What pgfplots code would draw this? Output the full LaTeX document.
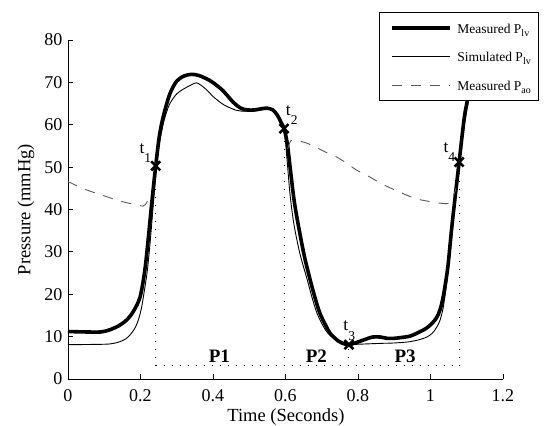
\documentclass[border=0pt]{standalone}
\usepackage{fontspec}
\setmainfont{Liberation Serif}
\usepackage{pgfplots}
\pgfplotsset{compat=1.18}
\pgfdeclareplotmark{boldx}{%
  \pgfsetlinewidth{2.6pt}\pgfsetbuttcap
  \pgfpathmoveto{\pgfqpoint{-\pgfplotmarksize}{-\pgfplotmarksize}}%
  \pgfpathlineto{\pgfqpoint{\pgfplotmarksize}{\pgfplotmarksize}}%
  \pgfpathmoveto{\pgfqpoint{-\pgfplotmarksize}{\pgfplotmarksize}}%
  \pgfpathlineto{\pgfqpoint{\pgfplotmarksize}{-\pgfplotmarksize}}%
  \pgfusepathqstroke}
\begin{document}
\begin{tikzpicture}
\path[use as bounding box] (-68pt,-47pt) rectangle (482pt,379pt);
\begin{axis}[
  scale only axis, width=435pt, height=339pt,
  xmin=0, xmax=1.2, ymin=0, ymax=80,
  axis lines=left, axis line style={-, line width=0.8pt},
  tick align=inside, major tick length=5pt,
  tick style={line width=0.8pt, black},
  xtick={0,0.2,0.4,0.6,0.8,1,1.2}, ytick={0,10,20,30,40,50,60,70,80},
  /pgf/number format/assume math mode=true,
  tick label style={font=\fontsize{18}{20}\selectfont},
  xticklabel style={anchor=base, yshift=-22.7pt},
  yticklabel style={anchor=east, inner xsep=0pt, xshift=-5.3pt},
  xlabel={Time (Seconds)}, ylabel={Pressure (mmHg)},
  label style={font=\fontsize{18.5}{20}\selectfont},
  xlabel style={at={(axis description cs:0.501,-0.126)}, anchor=base},
  ylabel style={at={(axis description cs:-0.0966,0.5)}, anchor=center, rotate=0},
  legend style={at={(axis description cs:0.7149,1.0835)}, anchor=north west,
    draw=black, line width=1pt, fill=white, inner xsep=8pt, inner ysep=10pt,
    row sep=17.7pt, column sep=5.6pt, font=\fontsize{13.5}{14}\selectfont,
    nodes={inner sep=0pt, text height=11pt, text depth=0pt},
    cells={anchor=west}},
  legend image code/.code={\path (0pt,0pt); \draw[#1] (3pt,0pt) -- (60.7pt,0pt);},
]
% dotted guide lines
\addplot[black, line width=1pt, dash pattern=on 1.2pt off 6.8pt, forget plot] coordinates {(0.242,3.1) (1.079,3.1)};
\addplot[black, line width=1pt, dash pattern=on 1.2pt off 6.8pt, forget plot] coordinates {(0.242,3.1) (0.242,50.3)};
\addplot[black, line width=1pt, dash pattern=on 1.2pt off 6.8pt, forget plot] coordinates {(0.596,3.1) (0.596,59.1)};
\addplot[black, line width=1pt, dash pattern=on 1.2pt off 6.8pt, forget plot] coordinates {(0.775,3.1) (0.775,8.1)};
\addplot[black, line width=1pt, dash pattern=on 1.2pt off 6.8pt, forget plot] coordinates {(1.079,3.1) (1.079,51.2)};

% Measured P_lv
\addplot[black, line width=3.6pt, line join=round, smooth] coordinates {
(0,11.2) (0.05,11.1) (0.09,11.1) (0.115,11.6) (0.143,12.7) (0.165,14.2) (0.182,16.2)
(0.199,19.4) (0.212,25.7) (0.222,33.6) (0.231,41.5) (0.242,50.3) (0.252,57.3) (0.263,62)
(0.281,67.3) (0.3,70.3) (0.32,71.5) (0.341,71.9) (0.362,71.6) (0.39,70.5) (0.41,69.3)
(0.428,68) (0.456,65.3) (0.475,64) (0.493,63.5) (0.515,63.5) (0.535,63.8) (0.55,63.9)
(0.565,63.5) (0.578,62.2) (0.588,60.5) (0.596,59.1) (0.605,55.5) (0.614,49) (0.624,42)
(0.636,36) (0.652,29) (0.668,23.4) (0.682,19) (0.695,15.5) (0.71,12.8) (0.723,10.8)
(0.745,9) (0.762,8.3) (0.775,8.1) (0.792,8.5) (0.815,9.2) (0.84,9.9) (0.862,9.9)
(0.88,9.6) (0.9,9.6) (0.92,9.8) (0.943,10.1) (0.965,10.9) (0.989,12) (1.005,13.2)
(1.017,14.5) (1.027,16.5) (1.035,19.4) (1.043,23.5) (1.049,27.3) (1.058,35.2) (1.068,43)
(1.079,51.2) (1.088,58) (1.095,62.7) (1.105,67) (1.115,71) (1.125,74)};
\addlegendentry{Measured P\raisebox{-3pt}{\fontsize{10}{10}\selectfont lv}}

% Simulated P_lv
\addplot[black, line width=0.9pt, smooth] coordinates {
(0,8.1) (0.1,8.2) (0.125,8.4) (0.143,8.8) (0.16,9.5) (0.171,10.4) (0.184,11.9) (0.194,13.9)
(0.202,16.5) (0.208,19.4) (0.219,25.7) (0.228,33.6) (0.236,42) (0.244,50) (0.252,55.5)
(0.263,60.3) (0.272,63) (0.281,65) (0.3,67.3) (0.32,68.5) (0.34,69.4) (0.355,69.9)
(0.375,68.8) (0.39,67.6) (0.401,66.6) (0.43,64.7) (0.465,63.4) (0.49,63.2) (0.52,63.3)
(0.548,63.7) (0.565,63.3) (0.578,62) (0.588,60.3) (0.596,58.8) (0.6,56) (0.606,50)
(0.612,44) (0.619,39) (0.626,35.2) (0.64,29.5) (0.66,23.4) (0.674,19) (0.687,15.5)
(0.702,12.8) (0.717,10.8) (0.742,9) (0.758,8.4) (0.775,8.1) (0.8,8.2) (0.86,8.4) (0.9,8.5)
(0.943,8.8) (0.97,9.3) (0.99,9.9) (1.005,10.8) (1.017,12.2) (1.026,13.8) (1.035,16.8)
(1.043,21.5) (1.052,28) (1.06,35) (1.069,43) (1.079,50.8) (1.09,58) (1.1,63.5)
(1.112,68.5) (1.125,73)};
\addlegendentry{Simulated P\raisebox{-3pt}{\fontsize{10}{10}\selectfont lv}}

% Measured P_ao
\addplot[black!65, line width=0.9pt, dash pattern=on 10pt off 9pt, smooth] coordinates {
(0,46.6) (0.037,45.1) (0.065,44.2) (0.097,43.3) (0.125,42.5) (0.157,41.7) (0.194,41.0)
(0.207,40.8) (0.214,41.2) (0.219,42.0)};
\addlegendentry{Measured P\raisebox{-3pt}{\fontsize{10}{10}\selectfont ao}}
\addplot[black!65, line width=0.9pt, dash pattern=on 10pt off 9pt, smooth, forget plot] coordinates {
(0.606,54.3) (0.612,55.8) (0.62,56.4) (0.654,55.8) (0.681,54.8) (0.714,53.4) (0.741,52.4)
(0.769,50.9) (0.796,49.3) (0.824,48.1) (0.852,46.7) (0.879,45.5) (0.907,44.4) (0.934,43.4)
(0.962,42.5) (0.99,42) (1.017,41.6) (1.04,41.4) (1.052,41.6) (1.063,43.2) (1.07,45)};

% event markers
\addplot[black, only marks, mark=boldx, mark size=4.5pt, forget plot]
  coordinates {(0.242,50.3) (0.596,59.1) (0.775,8.1) (1.079,51.2)};

% labels
\node[anchor=base west, inner sep=0pt, font=\fontsize{17.5}{18}\selectfont, xshift=-16.4pt, yshift=12.7pt] at (axis cs:0.242,50.3) {t\raisebox{-9.5pt}{\fontsize{13.5}{14}\selectfont 1}};
\node[anchor=base west, inner sep=0pt, font=\fontsize{17.5}{18}\selectfont, xshift=1.7pt, yshift=13.3pt] at (axis cs:0.596,59.1) {t\raisebox{-9.5pt}{\fontsize{13.5}{14}\selectfont 2}};
\node[anchor=base west, inner sep=0pt, font=\fontsize{17.5}{18}\selectfont, xshift=-5.7pt, yshift=14pt] at (axis cs:0.775,8.1) {t\raisebox{-9.5pt}{\fontsize{13.5}{14}\selectfont 3}};
\node[anchor=base west, inner sep=0pt, font=\fontsize{17.5}{18}\selectfont, xshift=-15.7pt, yshift=10pt] at (axis cs:1.079,51.2) {t\raisebox{-9.5pt}{\fontsize{13.5}{14}\selectfont 4}};
\node[anchor=base, inner sep=0pt, font=\bfseries\fontsize{19}{20}\selectfont] at (axis cs:0.4175,3.94) {P1};
\node[anchor=base, inner sep=0pt, font=\bfseries\fontsize{19}{20}\selectfont] at (axis cs:0.685,3.94) {P2};
\node[anchor=base, inner sep=0pt, font=\bfseries\fontsize{19}{20}\selectfont] at (axis cs:0.93,3.94) {P3};
\end{axis}
\end{tikzpicture}
\end{document}
